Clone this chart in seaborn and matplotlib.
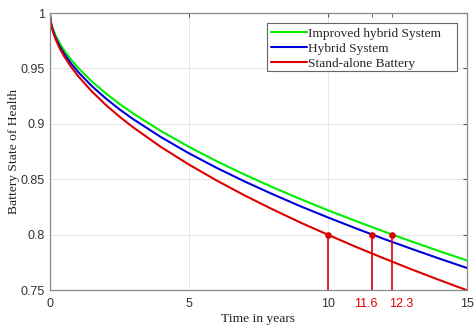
import matplotlib
matplotlib.use("Agg")
import matplotlib.pyplot as plt
import matplotlib.transforms as mtransforms
from matplotlib.patches import Rectangle
import seaborn as sns
import pandas as pd

time_years = [0, 0.02, 0.05, 0.1, 0.2, 0.35, 0.5, 0.75, 1, 1.5, 2, 2.5, 3, 4, 5, 6, 7, 8, 9, 10, 11, 12, 13, 14, 15]
soh_improved = [1.0, 0.9945, 0.9908, 0.9865, 0.9801, 0.9728, 0.9668, 0.9583, 0.9510, 0.9385, 0.9278, 0.9181, 0.9093,
                0.8935, 0.8793, 0.8663, 0.8543, 0.8430, 0.8323, 0.8221, 0.8124, 0.8030, 0.7940, 0.7852, 0.7768]
soh_hybrid = [1.0, 0.9937, 0.9897, 0.9849, 0.9780, 0.9702, 0.9639, 0.9549, 0.9473, 0.9343, 0.9232, 0.9132, 0.9042,
              0.8880, 0.8735, 0.8603, 0.8481, 0.8367, 0.8258, 0.8156, 0.8058, 0.7963, 0.7873, 0.7785, 0.7700]
soh_standalone = [1.0, 0.9934, 0.9891, 0.9841, 0.9767, 0.9683, 0.9615, 0.9519, 0.9436, 0.9295, 0.9174, 0.9066, 0.8968,
                  0.8791, 0.8633, 0.8489, 0.8355, 0.8230, 0.8111, 0.8000, 0.7891, 0.7788, 0.7688, 0.7592, 0.7499]
series_names = ["Improved hybrid System", "Hybrid System", "Stand-alone Battery"]
eol_years = [10, 11.6, 12.3]
eol_soh = 0.8

sns.set_style("white")
plt.rcParams['font.family'] = ['Liberation Sans', 'DejaVu Sans']

fig = plt.figure(figsize=(4.75, 3.35), dpi=100)
ax = fig.add_axes([0.105, 0.134, 0.878, 0.827])

df = pd.DataFrame({
    "t": time_years * 3,
    "soh": soh_improved + soh_hybrid + soh_standalone,
    "series": [series_names[0]] * len(time_years) + [series_names[1]] * len(time_years) + [series_names[2]] * len(time_years),
})
palette = {series_names[0]: "#00ee00", series_names[1]: "#0000dd", series_names[2]: "#dd0000"}
sns.lineplot(data=df, x="t", y="soh", hue="series", palette=palette, linewidth=1.5, ax=ax, legend=True)

for x in eol_years:
    ax.plot([x, x], [0.75, eol_soh], color="#dd0000", lw=1.2, zorder=3)
ax.scatter(eol_years, [eol_soh] * len(eol_years), color="#dd0000", s=14, zorder=4)

ax.set_xlim(0, 15)
ax.set_ylim(0.75, 1.0)
ax.set_xticks([0, 5, 10, 15])
ax.set_xticklabels(["0", "5", "10", "15"])
ax.set_xticks(eol_years[1:], minor=True)
ax.set_xticklabels([str(v) for v in eol_years[1:]], minor=True)
ax.set_yticks([0.75, 0.8, 0.85, 0.9, 0.95, 1.0])
ax.set_yticklabels(["0.75", "0.8", "0.85", "0.9", "0.95", "1"])
ax.grid(True, which="major", color="#e6e6e6", lw=0.7)
ax.tick_params(which="both", direction="in", length=3, labelsize=9, labelcolor="#333333", color="#555555",
               top=True, right=True)
ax.tick_params(axis="x", which="both", pad=5.5)
ax.tick_params(axis="y", which="both", pad=3.5)
minor_lbls = ax.get_xticklabels(minor=True)
offsets = [-4.5, 7.0]
for lbl, dx in zip(minor_lbls, offsets):
    lbl.set_color("#dd0000")
    lbl.set_transform(lbl.get_transform() + mtransforms.ScaledTranslation(dx / 72, 0, fig.dpi_scale_trans))
for s in ax.spines.values():
    s.set_color("#8a8a8a")
    s.set_linewidth(0.9)

ax.set_xlabel("Time in years", family="Liberation Serif", fontsize=9.7, color="#222222")
ax.set_ylabel("Battery State of Health", family="Liberation Serif", fontsize=9.7, color="#222222")
ax.xaxis.set_label_coords(0.5, -0.083)
ax.yaxis.set_label_coords(-0.072, 0.5)

# legend frame (wider, MATLAB-like right padding)
frame = Rectangle((0.520, 0.791), 0.456, 0.173, transform=ax.transAxes, facecolor="white",
                  edgecolor="#666666", lw=0.8, zorder=5)
ax.add_patch(frame)
leg = ax.legend(loc="upper left", bbox_to_anchor=(0.530, 0.948), prop={"family": "Liberation Serif", "size": 9.6},
                frameon=False, handlelength=2.7, handletextpad=0.05,
                borderpad=0.0, labelspacing=0.2, borderaxespad=0.0)
leg.set_zorder(6)

fig.savefig("out.png", dpi=100)
